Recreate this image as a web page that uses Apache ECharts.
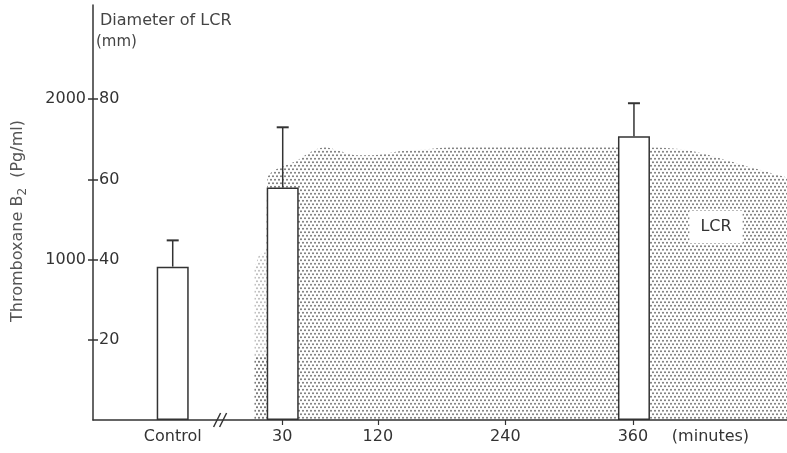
<!DOCTYPE html>
<html><head><meta charset="utf-8">
<script src="https://cdn.jsdelivr.net/npm/echarts@6/dist/echarts.min.js"></script>
<style>html,body{margin:0;padding:0;background:#fff}#c{width:787px;height:453px}</style>
</head><body><div id="c"></div>
<script>
// ---- data ----
const barMinutes = [-73, 30.5, 361];
const barDiameter = [38.25, 58, 70.75];
const errTop = [44.8, 73, 79];
const lcrMinutes = [4, 14.5, 16, 46, 58, 70, 85, 100, 115, 140, 165, 190, 250, 330, 370, 405, 425, 445, 465, 485, 505];
const lcrDiameter = [16, 16, 60, 65, 67, 68, 67, 66, 66, 67, 67.5, 68, 68, 68, 68, 67.5, 66.5, 65, 63.5, 62, 60.5];
const stripMinutes = [4, 8, 14.5];
const stripDiameter = [38, 41, 42];
const xTickValues = [30, 120, 240, 360];
const xLabelValues = [-73, 30, 120, 240, 360, 433];
const xLabelTexts = ['Control', '30', '120', '240', '360', '(minutes)'];
const yTickValues = [20, 40, 60, 80];
const yLeftLabelValues = [40, 80];
const yLeftLabelTexts = ['1000', '2000'];
const breakMinute = -27;

// stipple pattern (staggered dots)
const pc = document.createElement('canvas');
pc.width = 4; pc.height = 7;
const g = pc.getContext('2d');
g.fillStyle = '#6e6e6e';
g.beginPath(); g.arc(1, 1.2, 0.95, 0, Math.PI * 2); g.fill();
g.beginPath(); g.arc(3, 4.7, 0.95, 0, Math.PI * 2); g.fill();

const FONT = 'DejaVu Sans';
const INK = '#333';

const chart = echarts.init(document.getElementById('c'));
const option = {
  animation: false,
  grid: { left: 93, right: 0, top: 5, bottom: 33 },
  xAxis: {
    type: 'value', min: -148, max: 505,
    axisLine: { show: true, onZero: false, lineStyle: { color: INK, width: 1.5 } },
    axisTick: { show: true, customValues: xTickValues, length: 5, lineStyle: { color: INK, width: 1.2 } },
    axisLabel: {
      customValues: xLabelValues, margin: 9,
      fontFamily: FONT, fontSize: 16, color: INK,
      formatter: v => { const i = xLabelValues.indexOf(v); return i >= 0 ? xLabelTexts[i] : ''; }
    },
    splitLine: { show: false }
  },
  yAxis: [{
    type: 'value', min: 0, max: 103.5, position: 'left',
    axisLine: { show: true, onZero: false, lineStyle: { color: INK, width: 1.5 } },
    axisTick: { show: true, inside: true, customValues: yTickValues, length: 5, lineStyle: { color: INK, width: 1.5 } },
    axisLabel: { inside: true, customValues: yTickValues, margin: 6, fontFamily: FONT, fontSize: 16, color: INK },
    splitLine: { show: false }
  }, {
    type: 'value', min: 0, max: 103.5, position: 'left',
    axisLine: { show: false, onZero: false },
    axisTick: { show: true, customValues: yTickValues, length: 5, lineStyle: { color: INK, width: 1.5 } },
    axisLabel: {
      customValues: yLeftLabelValues, margin: 7, fontFamily: FONT, fontSize: 16, color: INK,
      formatter: v => { const i = yLeftLabelValues.indexOf(v); return i >= 0 ? yLeftLabelTexts[i] : ''; }
    },
    splitLine: { show: false }
  }],
  series: [{
    type: 'line', name: 'LCR', z: 1,
    data: lcrMinutes.map((m, i) => [m, lcrDiameter[i]]),
    showSymbol: false, smooth: 0.3,
    lineStyle: { width: 0 },
    areaStyle: { color: { image: pc, repeat: 'repeat' }, opacity: 1 }
  }, {
    type: 'line', name: 'LCR strip', z: 1,
    data: stripMinutes.map((m, i) => [m, stripDiameter[i]]),
    showSymbol: false,
    lineStyle: { width: 0 },
    areaStyle: { color: { image: pc, repeat: 'repeat' }, opacity: 0.5 }
  }, {
    type: 'bar', z: 3, barWidth: 32,
    data: barMinutes.map((m, i) => [m, barDiameter[i]]),
    itemStyle: { color: '#fff', borderColor: INK, borderWidth: 1.5 }
  }, {
    type: 'custom', z: 4,
    data: barMinutes.map((m, i) => [m, barDiameter[i], errTop[i]]),
    renderItem: (params, api) => {
      const p0 = api.coord([api.value(0), api.value(1)]);
      const p1 = api.coord([api.value(0), api.value(2)]);
      return { type: 'group', children: [
        { type: 'line', shape: { x1: p0[0], y1: p0[1], x2: p1[0], y2: p1[1] }, style: { stroke: INK, lineWidth: 1.5 } },
        { type: 'line', shape: { x1: p1[0] - 6, y1: p1[1], x2: p1[0] + 6, y2: p1[1] }, style: { stroke: INK, lineWidth: 2 } }
      ]};
    }
  }],
  graphic: [
    { type: 'text', left: 100, top: 13, style: { text: 'Diameter of LCR', fontFamily: FONT, fontSize: 16, fill: '#444' } },
    { type: 'text', left: 96, top: 35, style: { text: '(mm)', fontFamily: FONT, fontSize: 15, fill: '#444' } },
    { type: 'text', x: 18, y: 221, rotation: Math.PI / 2,
      style: { text: '{a|Thromboxane B}{s|2}{a|  (Pg/ml)}', align: 'center', verticalAlign: 'middle',
        rich: { a: { fontFamily: FONT, fontSize: 16, fill: '#555', lineHeight: 22 },
                s: { fontFamily: FONT, fontSize: 12, fill: '#555', lineHeight: 12, verticalAlign: 'bottom' } } } },
    { type: 'text', x: 716, y: 227, z: 10,
      style: { text: 'LCR', fontFamily: FONT, fontSize: 16, fill: INK, align: 'center', verticalAlign: 'middle',
        backgroundColor: '#fff', padding: [8, 11, 8, 11] } }
  ]
};
chart.setOption(option);
const bp = chart.convertToPixel({ xAxisIndex: 0, yAxisIndex: 0 }, [breakMinute, 0]);
chart.setOption({ graphic: option.graphic.concat([
  { type: 'line', z: 10, shape: { x1: bp[0] - 8, y1: bp[1] + 7, x2: bp[0] - 1, y2: bp[1] - 7 }, style: { stroke: INK, lineWidth: 1.5 } },
  { type: 'line', z: 10, shape: { x1: bp[0] - 2, y1: bp[1] + 7, x2: bp[0] + 5, y2: bp[1] - 7 }, style: { stroke: INK, lineWidth: 1.5 } }
]) });
</script></body></html>
